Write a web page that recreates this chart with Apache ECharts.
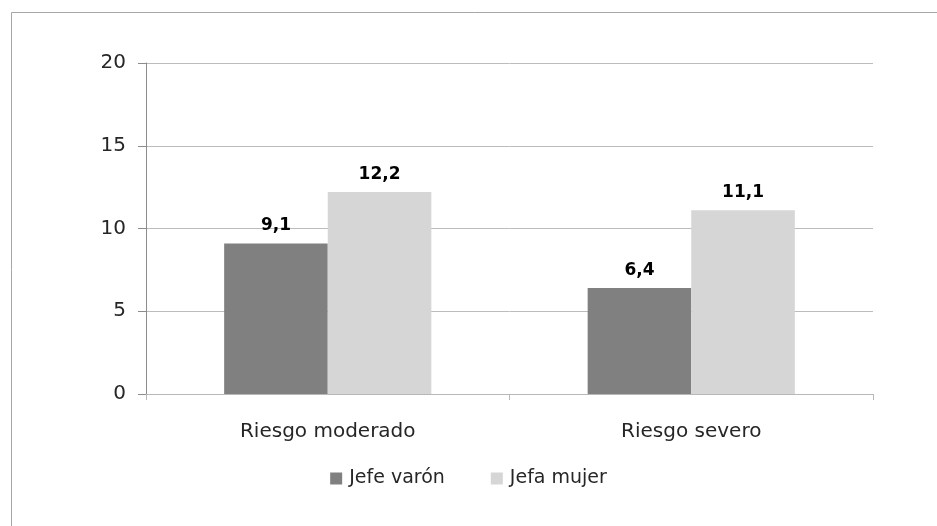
<!DOCTYPE html>
<html>
<head>
<meta charset="utf-8">
<script src="https://cdn.jsdelivr.net/npm/echarts@6/dist/echarts.min.js"></script>
<style>html,body{margin:0;padding:0;background:#fff}#c{width:937px;height:526px}</style>
</head>
<body>
<div id="c"></div>
<script>
const categories = ['Riesgo moderado', 'Riesgo severo'];
const seriesNames = ['Jefe varón', 'Jefa mujer'];
const jefeVaron = [9.1, 6.4];
const jefaMujer = [12.2, 11.1];
const yTicks = [0, 5, 10, 15, 20];

const font = '"DejaVu Sans", sans-serif';
const chart = echarts.init(document.getElementById('c'));
const labelFmt = p => String(p.value).replace('.', ',');
chart.setOption({
  animation: false,
  backgroundColor: '#fff',
  graphic: [{
    type: 'rect', left: 9, top: 10,
    shape: { width: 1000, height: 600 },
    style: { fill: 'none', stroke: '#a6a6a6', lineWidth: 1 }, silent: true
  }],
  grid: { left: 146, right: 64, top: 63, bottom: 132, containLabel: false },
  legend: {
    bottom: 33, left: 'center',
    itemWidth: 12, itemHeight: 12, itemGap: 46, icon: 'rect',
    textStyle: { fontFamily: font, fontSize: 19, color: '#262626', padding: [0, 0, 0, 2] },
    data: seriesNames
  },
  xAxis: {
    type: 'category', data: categories,
    axisLine: { lineStyle: { color: '#b8b8b8' } },
    axisTick: { show: true, length: 6, lineStyle: { color: '#b8b8b8' } },
    axisLabel: { fontFamily: font, fontSize: 20, color: '#262626', margin: 28 }
  },
  yAxis: {
    type: 'value', min: yTicks[0], max: yTicks[yTicks.length - 1], interval: 5,
    axisLine: { show: true, lineStyle: { color: '#8c8c8c' } },
    axisTick: { show: true, length: 8, lineStyle: { color: '#8c8c8c' } },
    splitLine: { lineStyle: { color: '#bcbcbc' } },
    axisLabel: { fontFamily: font, fontSize: 20, color: '#262626', margin: 20 }
  },
  series: [
    {
      name: seriesNames[0], type: 'bar', data: jefeVaron,
      barGap: '0%', barCategoryGap: '43%',
      itemStyle: { color: '#808080' },
      label: { show: true, position: 'top', formatter: labelFmt, fontFamily: font, fontSize: 17, fontWeight: 'bold', color: '#000', distance: 9 }
    },
    {
      name: seriesNames[1], type: 'bar', data: jefaMujer,
      itemStyle: { color: '#d6d6d6' },
      label: { show: true, position: 'top', formatter: labelFmt, fontFamily: font, fontSize: 17, fontWeight: 'bold', color: '#000', distance: 9 }
    }
  ]
});
</script>
</body>
</html>
